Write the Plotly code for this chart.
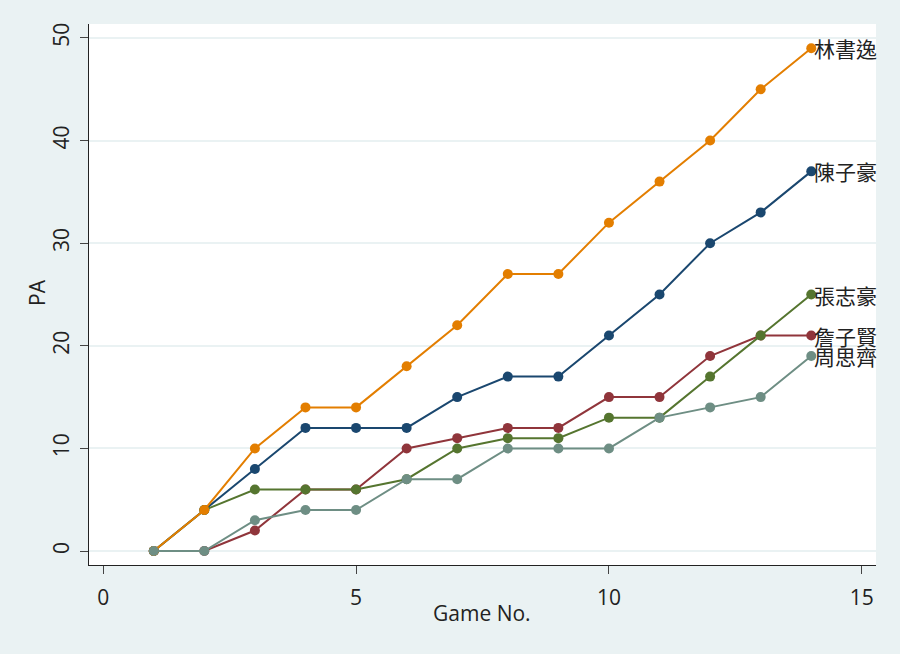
import plotly.graph_objects as go

games = list(range(1, 15))
names = ["陳子豪", "詹子賢", "張志豪", "林書逸", "周思齊"]
pa_chen = [0, 4, 8, 12, 12, 12, 15, 17, 17, 21, 25, 30, 33, 37]
pa_zhan = [0, 0, 2, 6, 6, 10, 11, 12, 12, 15, 15, 19, 21, 21]
pa_zhang = [0, 4, 6, 6, 6, 7, 10, 11, 11, 13, 13, 17, 21, 25]
pa_lin = [0, 4, 10, 14, 14, 18, 22, 27, 27, 32, 36, 40, 45, 49]
pa_zhou = [0, 0, 3, 4, 4, 7, 7, 10, 10, 10, 13, 14, 15, 19]
series = [pa_chen, pa_zhan, pa_zhang, pa_lin, pa_zhou]
colors = ["#1A476F", "#90353B", "#55752F", "#E37E00", "#6E8E84"]

fig = go.Figure()
for name, vals, c in zip(names, series, colors):
    fig.add_trace(go.Scatter(
        x=games, y=vals, mode="lines+markers", name=name,
        line=dict(color=c, width=2),
        marker=dict(color=c, size=10, symbol="circle"),
        showlegend=False, cliponaxis=False,
    ))
    fig.add_annotation(
        x=games[-1], y=vals[-1], text=name, showarrow=False,
        xanchor="left", yanchor="middle", xshift=1,
        font=dict(family="Noto Sans CJK TC", size=21, color="#222"),
    )

axis_font = dict(family="Open Sans", size=21, color="#222")
fig.add_annotation(
    xref="paper", yref="paper", x=(482 - 89) / 787, y=-(613 - 565) / 541,
    text="Game No.", showarrow=False, xanchor="center", yanchor="middle",
    font=axis_font,
)
fig.add_annotation(
    xref="paper", yref="paper", x=(37 - 89) / 787, y=(565 - 293) / 541,
    text="PA", showarrow=False, xanchor="center", yanchor="middle",
    textangle=-90, font=axis_font,
)

fig.update_layout(
    width=900, height=654,
    paper_bgcolor="#EAF2F3", plot_bgcolor="#FFFFFF",
    margin=dict(l=89, r=24, t=24, b=89),
    xaxis=dict(
        range=[-0.28, 15.28], tickvals=[0, 5, 10, 15],
        showgrid=False, zeroline=False,
        showline=True, linecolor="#222", linewidth=1.3,
        ticks="outside", ticklen=8, tickcolor="#444", tickwidth=1,
        tickfont=axis_font, ticklabelstandoff=6,
    ),
    yaxis=dict(
        range=[-1.36, 51.36], tickvals=[0, 10, 20, 30, 40, 50],
        showgrid=True, gridcolor="#EAF2F3", gridwidth=1.5, zeroline=False,
        showline=True, linecolor="#222", linewidth=1.3,
        ticks="outside", ticklen=8, tickcolor="#444", tickwidth=1,
        tickangle=-90, tickfont=axis_font, ticklabelstandoff=2,
    ),
)
fig.write_html("out.html", config={"displayModeBar": False},
               post_script="document.body.style.margin='0';")
